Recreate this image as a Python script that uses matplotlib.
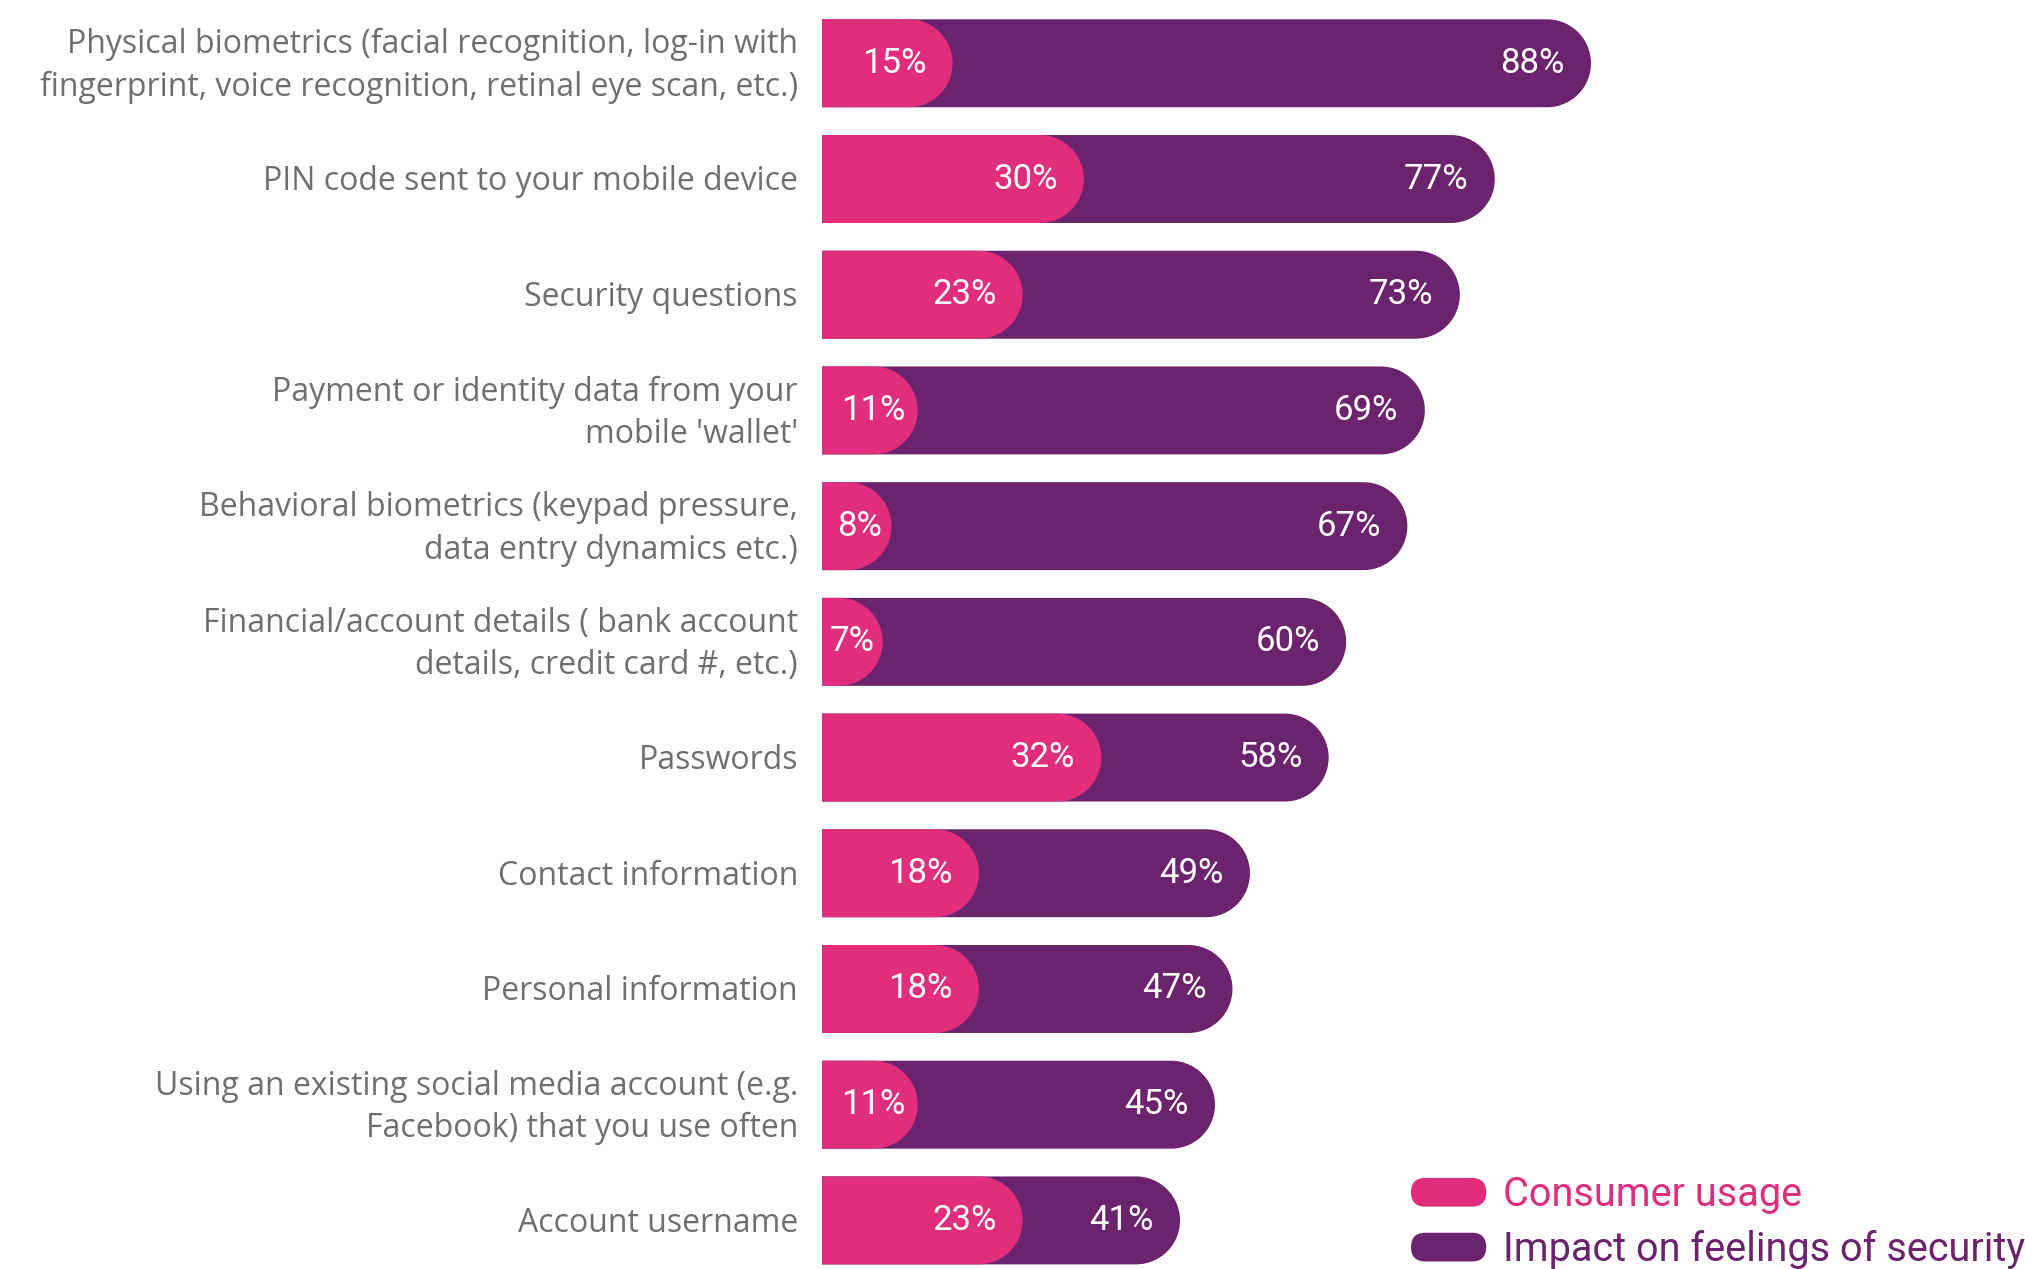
import numpy as np
import matplotlib
matplotlib.use("Agg")
import matplotlib.pyplot as plt
from matplotlib.patches import Polygon, FancyBboxPatch, Patch
from matplotlib.legend_handler import HandlerBase

# ---- data ---------------------------------------------------------------
categories = [
    "Physical biometrics (facial recognition, log-in with\nfingerprint, voice recognition, retinal eye scan, etc.)",
    "PIN code sent to your mobile device",
    "Security questions",
    "Payment or identity data from your\nmobile 'wallet'",
    "Behavioral biometrics (keypad pressure,\ndata entry dynamics etc.)",
    "Financial/account details ( bank account\ndetails, credit card #, etc.)",
    "Passwords",
    "Contact information",
    "Personal information",
    "Using an existing social media account (e.g.\nFacebook) that you use often",
    "Account username",
]
consumer_usage = [15, 30, 23, 11, 8, 7, 32, 18, 18, 11, 23]
impact_security = [88, 77, 73, 69, 67, 60, 58, 49, 47, 45, 41]
series_names = ["Consumer usage", "Impact on feelings of security"]

PINK = "#e02e7c"
PURPLE = "#6a236c"
GREY = "#6e6f72"
LABEL_FONT = "Open Sans"
NUM_FONT = "Roboto"

W, H, DPI = 2025, 1269, 100
fig = plt.figure(figsize=(W / DPI, H / DPI), dpi=DPI)
fig.patch.set_facecolor("white")

# axes: 0% sits at x=821.5px, 8.744 px per percentage point
x0_px, px_per_pct = 821.5, 8.744
ax = fig.add_axes([x0_px / W, 0.0, 100 * px_per_pct / W, 1.0])
n = len(categories)
y_bottom, y_top = n - 1 + 0.42, -0.547
ax.set_xlim(0, 100)
ax.set_ylim(y_bottom, y_top)
ax.axis("off")

bar_h = 0.76

# conversion so that the rounded ends are true semicircles on screen
px_x = px_per_pct
px_y = H / (y_bottom - y_top)
rx = (bar_h / 2) * px_y / px_x


def pill_bar(y, value, color):
    """Bar from 0 to value with a semicircular right end."""
    t = np.linspace(-np.pi / 2, np.pi / 2, 60)
    cx = value - rx
    arc_x = cx + rx * np.cos(t)
    arc_y = y + (bar_h / 2) * np.sin(t)
    verts = [(0, y - bar_h / 2)] + list(zip(arc_x, arc_y)) + [(0, y + bar_h / 2)]
    ax.add_patch(Polygon(verts, closed=True, fc=color, ec="none", zorder=2))


for i, (cu, imp) in enumerate(zip(consumer_usage, impact_security)):
    pill_bar(i, imp, PURPLE)
    pill_bar(i, cu, PINK)

    ax.text(imp - 3.0, i, f"{imp}%", ha="right", va="center", color="white",
            fontsize=25, family=NUM_FONT, zorder=3)
    off = 3.0 if cu >= 12 else 0.13 * cu
    ax.text(cu - off, i, f"{cu}%", ha="right", va="center", color="white",
            fontsize=25, family=NUM_FONT, zorder=3)

    ax.text(-2.7, i + 0.025, categories[i], ha="right", va="center", color=GREY,
            fontsize=23, family=LABEL_FONT, linespacing=1.38,
            clip_on=False)


class PillHandler(HandlerBase):
    def create_artists(self, legend, orig_handle, xdescent, ydescent,
                       width, height, fontsize, trans):
        p = FancyBboxPatch((-xdescent, -ydescent), width, height,
                           boxstyle=f"round,pad=0,rounding_size={height / 2}",
                           fc=orig_handle.get_facecolor(), ec="none",
                           transform=trans)
        return [p]


handles = [Patch(fc=PINK), Patch(fc=PURPLE)]
leg = fig.legend(handles, series_names, loc="center left",
                 bbox_to_anchor=(1411 / W, 1 - 1222 / H),
                 frameon=False, borderpad=0, borderaxespad=0,
                 handlelength=1.9, handleheight=0.74, handletextpad=0.42,
                 labelspacing=0.4,
                 prop={"family": NUM_FONT, "size": 28.5},
                 handler_map={Patch: PillHandler()})
for txt, c in zip(leg.get_texts(), [PINK, PURPLE]):
    txt.set_color(c)

fig.savefig("out.png", dpi=DPI, facecolor="white")
